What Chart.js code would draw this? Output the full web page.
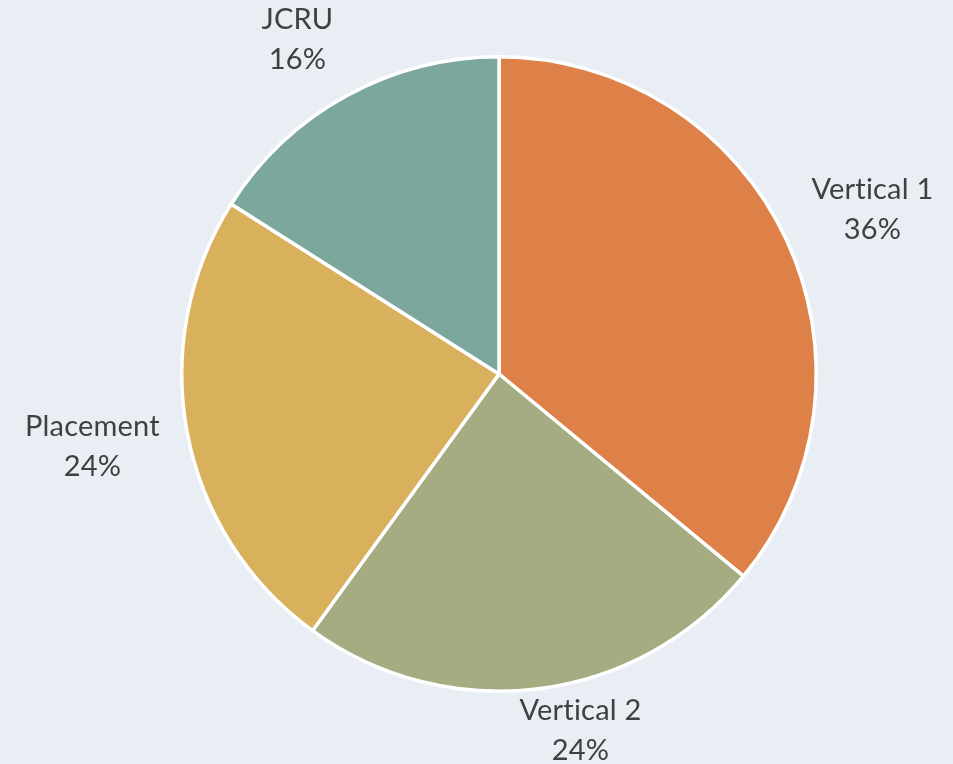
<!DOCTYPE html>
<html>
<head>
<meta charset="utf-8">
<script src="https://cdn.jsdelivr.net/npm/chart.js@4/dist/chart.umd.min.js"></script>
<style>
html,body{margin:0;padding:0;background:#E9EEF5;}
#wrap{position:relative;width:953px;height:764px;}
</style>
</head>
<body>
<div id="wrap"><canvas id="c" width="953" height="764"></canvas></div>
<script>
const categories = ["Vertical 1", "Vertical 2", "Placement", "JCRU"];
const shares = [36, 24, 24, 16];
const colors = ["#DE8149", "#A5AC82", "#D9B15C", "#7BA79D"];

const FONT = "29px Lato";
const LINE_H = 40;
const GAP = 28;

const outsideLabels = {
  id: "outsideLabels",
  afterDatasetsDraw(chart) {
    const ctx = chart.ctx;
    const meta = chart.getDatasetMeta(0);
    const total = shares.reduce((a, b) => a + b, 0);
    ctx.save();
    ctx.font = FONT;
    if ("letterSpacing" in ctx) ctx.letterSpacing = "0.2px";
    ctx.fillStyle = "#404040";
    ctx.textAlign = "center";
    ctx.textBaseline = "middle";
    meta.data.forEach((arc, i) => {
      const p = arc.getProps(["x", "y", "startAngle", "endAngle", "outerRadius"], true);
      const mid = (p.startAngle + p.endAngle) / 2;
      const dx = Math.cos(mid), dy = Math.sin(mid);
      const lines = [categories[i], Math.round(shares[i] / total * 100) + "%"];
      const w = Math.max(...lines.map(t => ctx.measureText(t).width));
      const halfW = w / 2, halfH = LINE_H;
      const d = p.outerRadius + GAP;
      const ax = p.x + dx * d, ay = p.y + dy * d;
      let cx, cy;
      if (Math.abs(dx) >= Math.abs(dy)) {
        cx = ax + Math.sign(dx) * halfW;
        cy = ay + dy * halfH;
      } else {
        cy = ay + Math.sign(dy) * halfH;
        cx = ax + dx * halfW + Math.sign(dx) * halfW * 0.5;
      }
      cy = Math.min(cy, chart.height - 33);
      cy = Math.max(cy, 40);
      cx = Math.max(cx, halfW + 4);
      cx = Math.min(cx, chart.width - halfW - 4);
      ctx.fillText(lines[0], cx, cy - LINE_H / 2);
      ctx.fillText(lines[1], cx, cy + LINE_H / 2);
    });
    ctx.restore();
  }
};

new Chart(document.getElementById("c"), {
  type: "pie",
  data: {
    labels: categories,
    datasets: [{
      data: shares,
      backgroundColor: colors,
      borderColor: "#FFFFFF",
      borderWidth: 3.5
    }]
  },
  options: {
    responsive: false,
    maintainAspectRatio: false,
    animation: false,
    layout: { padding: { left: 180, right: 135, top: 55, bottom: 71 } },
    plugins: { legend: { display: false }, tooltip: { enabled: false } }
  },
  plugins: [outsideLabels]
});
</script>
</body>
</html>
